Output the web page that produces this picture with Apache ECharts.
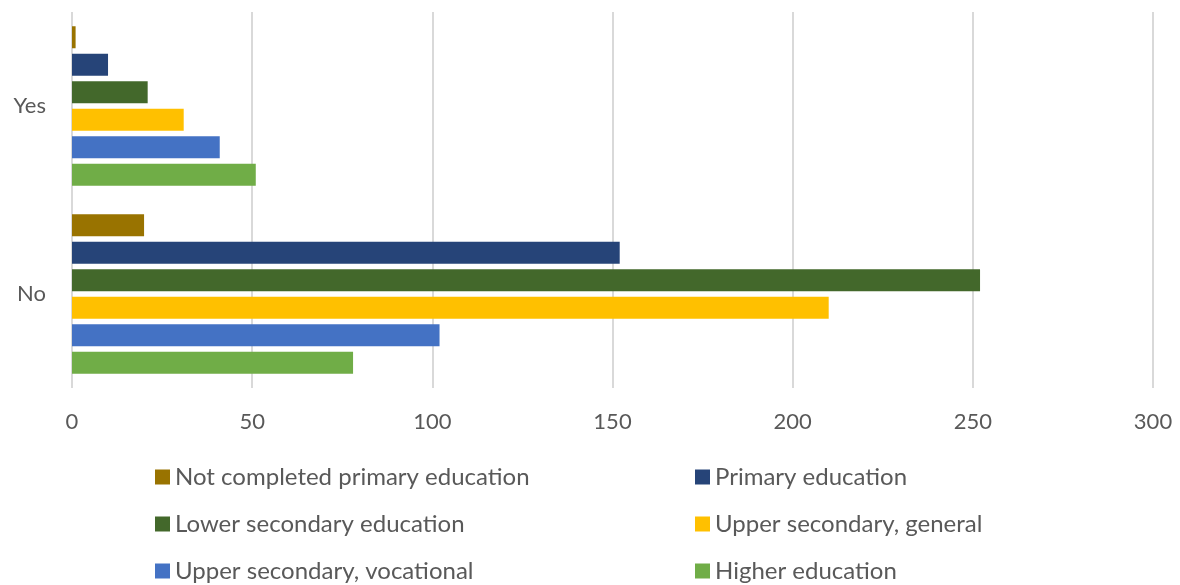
<!DOCTYPE html>
<html>
<head>
<meta charset="utf-8">
<script src="https://cdn.jsdelivr.net/npm/echarts@6/dist/echarts.min.js"></script>
<style>html,body{margin:0;padding:0;background:#fff}#c{width:1180px;height:585px}</style>
</head>
<body>
<div id="c"></div>
<script>
const categories = ['Yes', 'No'];
const seriesNames = ['Not completed primary education', 'Primary education', 'Lower secondary education', 'Upper secondary, general', 'Upper secondary, vocational', 'Higher education'];
const notCompleted = [1, 20];
const primary = [10, 152];
const lowerSecondary = [21, 252];
const upperGeneral = [31, 210];
const upperVocational = [41, 102];
const higher = [51, 78];
const xTicks = [0, 50, 100, 150, 200, 250, 300];
const colors = ['#997300', '#264478', '#43682B', '#FFC000', '#4472C4', '#70AD47'];

const values = [notCompleted, primary, lowerSecondary, upperGeneral, upperVocational, higher];
const font = 'Lato, "Open Sans", sans-serif';
const chart = echarts.init(document.getElementById('c'));
const legendCommon = {
  orient: 'vertical', top: 465, height: 120, padding: 0, itemWidth: 15, itemHeight: 15, itemGap: 23,
  icon: 'rect',
  textStyle: { color: '#595959', fontSize: 24, fontFamily: font, lineHeight: 24 }
};
chart.setOption({
  animation: false,
  color: colors,
  grid: { left: 72, right: 27, top: 12, bottom: 197, containLabel: false },
  legend: [
    Object.assign({ left: 155, data: [seriesNames[0], seriesNames[2], seriesNames[4]] }, legendCommon),
    Object.assign({ left: 695, data: [seriesNames[1], seriesNames[3], seriesNames[5]] }, legendCommon)
  ],
  xAxis: {
    type: 'value', min: xTicks[0], max: xTicks[xTicks.length - 1], interval: 50,
    axisLine: { show: false }, axisTick: { show: false },
    axisLabel: { color: '#595959', fontSize: 22, fontFamily: font, margin: 23 },
    splitLine: { show: true, lineStyle: { color: '#D9D9D9', width: 2 } }
  },
  yAxis: {
    type: 'category', data: categories, inverse: true,
    axisLine: { show: false }, axisTick: { show: false },
    axisLabel: { color: '#595959', fontSize: 22, fontFamily: font, margin: 26 }
  },
  series: seriesNames.map((n, i) => ({
    name: n, type: 'bar', data: values[i], barWidth: 22, barGap: '25%',
    itemStyle: { color: colors[i] }
  }))
});
</script>
</body>
</html>
